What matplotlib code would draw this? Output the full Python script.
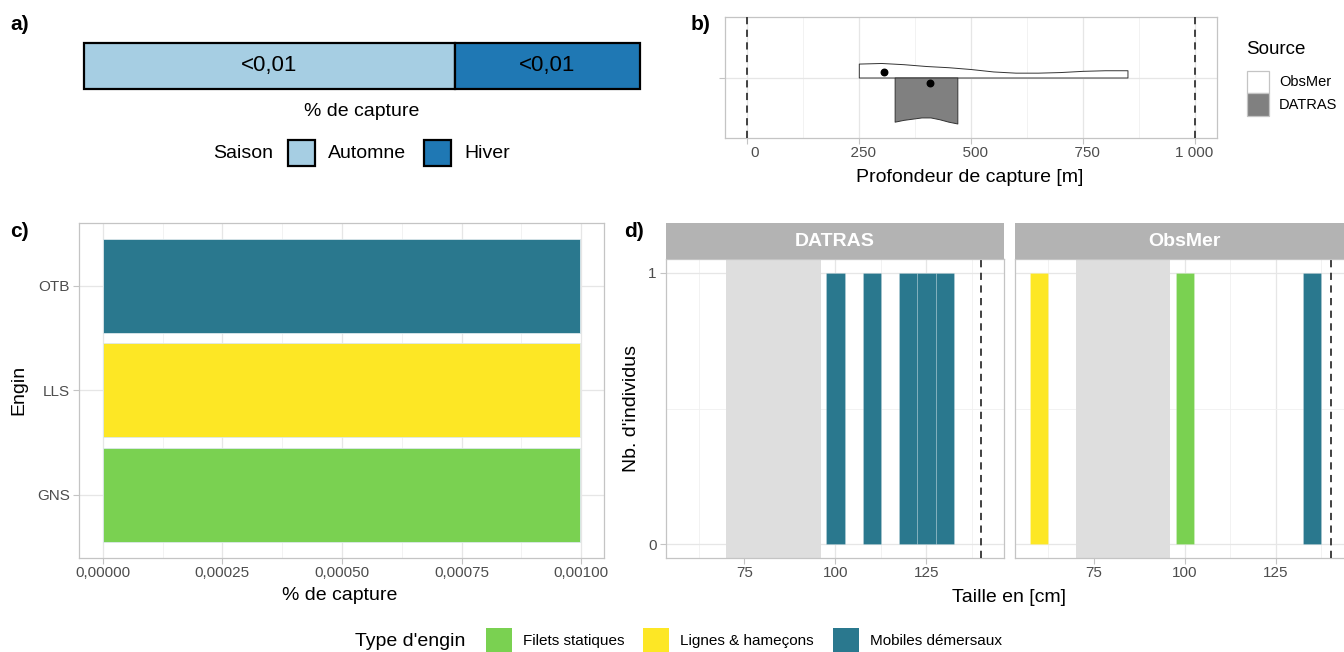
"""Composite figure: season share, depth violins, gear share, size histograms."""

import matplotlib

matplotlib.use("Agg")

import matplotlib.pyplot as plt
from matplotlib.patches import Rectangle
from matplotlib.ticker import FixedLocator

plt.rcParams["font.family"] = ["Liberation Sans", "DejaVu Sans"]

W, H = 1344, 652

GREEN = "#7AD151"
YELLOW = "#FDE725"
TEAL = "#2A788E"
BORDER = "#C4C4C4"
GRID_MAJOR = "#E6E6E6"
GRID_MINOR = "#F0F0F0"
TICK_TEXT = "#4D4D4D"
STRIP = "#B3B3B3"

# a) share of catch by season
saison_labels = ["Automne", "Hiver"]
saison_share = [2, 1]
saison_text = ["<0,01", "<0,01"]
saison_colors = ["#A6CEE3", "#1F78B4"]

# b) capture depth, half-violin profiles
obsmer_depth = [250, 300, 350, 400, 450, 500, 550, 600, 650, 700, 750, 800, 850]
obsmer_width = [0.23, 0.24, 0.22, 0.19, 0.17, 0.14, 0.10, 0.08, 0.08, 0.09, 0.11, 0.12, 0.12]
datras_depth = [330, 350, 370, 390, 410, 430, 450, 470]
datras_width = [0.73, 0.70, 0.68, 0.66, 0.66, 0.69, 0.73, 0.76]
point_depth = [307, 408]
point_offset = [0.094, -0.083]
depth_limits = [0, 1000]
depth_ticks = [0, 250, 500, 750, 1000]
# labels are right-padded to a common width, as in the source figure
depth_labels = ["    0", "  250", "  500", "  750", "1 000"]

# c) share of catch by gear
engin = ["GNS", "LLS", "OTB"]
engin_capture = [0.000997, 0.000997, 0.000997]
engin_type = ["Filets statiques", "Lignes & hameçons", "Mobiles démersaux"]

# d) size histograms
gear_types = ["Filets statiques", "Lignes & hameçons", "Mobiles démersaux"]
gear_colors = {"Filets statiques": GREEN, "Lignes & hameçons": YELLOW, "Mobiles démersaux": TEAL}
datras_sizes = [100, 110, 120, 125, 130]
datras_counts = [1, 1, 1, 1, 1]
datras_types = ["Mobiles démersaux"] * 5
obsmer_sizes = [60, 100, 135]
obsmer_counts = [1, 1, 1]
obsmer_types = ["Lignes & hameçons", "Filets statiques", "Mobiles démersaux"]
bin_width = 5
maturity_zone = (70, 96)
size_limit = 140


def box(left, top, right, bottom):
    return [left / W, 1 - bottom / H, (right - left) / W, (bottom - top) / H]


def ftext(fig, x, y, s, **kw):
    kw.setdefault("va", "center")
    fig.text(x / W, 1 - y / H, s, **kw)


def frect(fig, left, top, right, bottom, **kw):
    fig.add_artist(
        Rectangle(
            (left / W, 1 - bottom / H),
            (right - left) / W,
            (bottom - top) / H,
            transform=fig.transFigure,
            **kw,
        )
    )


def light_axis(ax):
    for spine in ax.spines.values():
        spine.set_color(BORDER)
        spine.set_linewidth(0.9)
    ax.set_axisbelow(True)
    ax.grid(True, which="major", color=GRID_MAJOR, linewidth=0.9)
    ax.grid(True, which="minor", color=GRID_MINOR, linewidth=0.6)
    ax.tick_params(which="major", length=4, width=0.8, color=BORDER,
                   labelcolor=TICK_TEXT, labelsize=11)
    ax.tick_params(axis="x", pad=2)
    ax.tick_params(axis="y", pad=2.5)
    ax.tick_params(which="minor", length=0)


fig = plt.figure(figsize=(W / 100, H / 100), dpi=100)

# ---- a) ----
ax_a = fig.add_axes(box(84, 43, 640, 89))
left = 0
for share, text, color in zip(saison_share, saison_text, saison_colors):
    ax_a.barh(0, share, left=left, height=1, color=color, edgecolor="black",
              linewidth=1.6, clip_on=False)
    ax_a.text(left + share / 2, 0, text, ha="center", va="center", fontsize=16)
    left += share
ax_a.set_xlim(0, sum(saison_share))
ax_a.set_ylim(-0.5, 0.5)
ax_a.axis("off")
ftext(fig, 362, 112, "% de capture", ha="center", fontsize=14)
ftext(fig, 243, 154, "Saison", ha="center", fontsize=14)
legend_x = [288, 424]
for x0, label, color in zip(legend_x, saison_labels, saison_colors):
    frect(fig, x0, 140, x0 + 27, 166, facecolor=color, edgecolor="black", linewidth=1.6)
    ftext(fig, x0 + 40, 154, label, fontsize=14)
ftext(fig, 20, 25, "a)", ha="center", fontsize=15, fontweight="bold")

# ---- b) ----
ax_b = fig.add_axes(box(724.5, 17, 1217, 138))
light_axis(ax_b)
ax_b.fill_between(obsmer_depth, 0, obsmer_width, facecolor="white",
                  edgecolor="#333333", linewidth=0.7, zorder=2)
ax_b.fill_between(datras_depth, 0, [-w for w in datras_width], facecolor="#808080",
                  edgecolor="#333333", linewidth=0.7, zorder=2)
ax_b.scatter(point_depth, point_offset, s=22, color="black", zorder=3)
for d in depth_limits:
    ax_b.axvline(d, color="#333333", linewidth=1.3, linestyle=(0, (4, 3)), zorder=3)
ax_b.set_xlim(-50, 1050)
ax_b.set_ylim(-1, 1)
ax_b.set_xticks(depth_ticks)
ax_b.set_xticklabels(depth_labels)
ax_b.xaxis.set_minor_locator(FixedLocator([125, 375, 625, 875]))
ax_b.set_yticks([0])
ax_b.set_yticklabels([""])
ftext(fig, 970, 177, "Profondeur de capture [m]", ha="center", fontsize=14)
ftext(fig, 701, 24, "b)", ha="center", fontsize=15, fontweight="bold")

ftext(fig, 1246, 50, "Source", fontsize=13.5)
frect(fig, 1247, 71, 1269, 93, facecolor="white", edgecolor=BORDER, linewidth=0.9)
frect(fig, 1247, 93, 1269, 116, facecolor="#808080", edgecolor=BORDER, linewidth=0.9)
ftext(fig, 1279, 82, "ObsMer", fontsize=10.5)
ftext(fig, 1279, 105, "DATRAS", fontsize=10.5)

# ---- c) ----
ax_c = fig.add_axes(box(79, 223, 603.6, 557.7))
light_axis(ax_c)
y_pos = list(range(1, len(engin) + 1))
ax_c.barh(y_pos, engin_capture, height=0.9,
          color=[gear_colors[t] for t in engin_type],
          edgecolor="#DCE8EC", linewidth=0.6, zorder=2)
xmax = max(engin_capture)
ax_c.set_xlim(-0.05 * xmax, 1.05 * xmax)
ax_c.set_ylim(0.4, len(engin) + 0.6)
x_ticks = [0, 0.00025, 0.0005, 0.00075, 0.001]
ax_c.set_xticks(x_ticks)
ax_c.set_xticklabels([f"{v:.5f}".replace(".", ",") for v in x_ticks])
ax_c.xaxis.set_minor_locator(FixedLocator([0.000125, 0.000375, 0.000625, 0.000875]))
ax_c.set_yticks(y_pos)
ax_c.set_yticklabels(engin)
ftext(fig, 19, 390, "Engin", ha="center", fontsize=14, rotation=90)
ftext(fig, 340, 596, "% de capture", ha="center", fontsize=14)
ftext(fig, 19, 231, "c)", ha="center", fontsize=15, fontweight="bold")

# ---- d) ----
facets = [
    ("DATRAS", datras_sizes, datras_counts, datras_types, 665.5, 1004),
    ("ObsMer", obsmer_sizes, obsmer_counts, obsmer_types, 1015, 1353.5),
]
for i, (name, sizes, counts, types, x0, x1) in enumerate(facets):
    ax = fig.add_axes(box(x0, 259.3, x1, 557.7))
    light_axis(ax)
    ax.axvspan(*maturity_zone, color="#DEDEDE", linewidth=0, zorder=1)
    ax.bar(sizes, counts, width=bin_width, color=[gear_colors[t] for t in types],
           edgecolor=(1, 1, 1, 0.25), linewidth=0.5, zorder=2)
    ax.axvline(size_limit, color="#333333", linewidth=1.3, linestyle=(0, (4, 3)), zorder=3)
    ax.set_xlim(53.3, 146.3)
    ax.set_ylim(-0.05, 1.05)
    ax.set_xticks([75, 100, 125])
    ax.xaxis.set_minor_locator(FixedLocator([62.5, 87.5, 112.5, 137.5]))
    ax.set_yticks([0, 1])
    ax.yaxis.set_minor_locator(FixedLocator([0.5]))
    if i > 0:
        ax.tick_params(axis="y", which="both", left=False, labelleft=False)
    frect(fig, x0, 223, x1, 259.3, facecolor=STRIP, edgecolor="none")
    ftext(fig, (x0 + x1) / 2, 241, name, ha="center", fontsize=14,
          fontweight="bold", color="white")
ftext(fig, 631, 409, "Nb. d'individus", ha="center", fontsize=14, rotation=90)
ftext(fig, 1009, 597, "Taille en [cm]", ha="center", fontsize=14)
ftext(fig, 634, 231, "d)", ha="center", fontsize=15, fontweight="bold")

# ---- shared gear legend ----
ftext(fig, 355, 641, "Type d'engin", fontsize=14)
legend_boxes = [486, 643, 833]
for x0, gear in zip(legend_boxes, gear_types):
    frect(fig, x0, 628, x0 + 26, 654, facecolor=gear_colors[gear], edgecolor="none")
    ftext(fig, x0 + 37, 641, gear, fontsize=11)

fig.savefig("out.png", dpi=100)
